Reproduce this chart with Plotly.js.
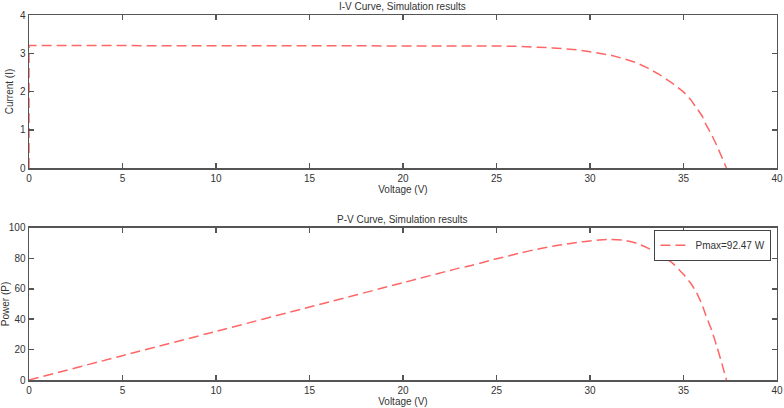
<!DOCTYPE html>
<html>
<head>
<meta charset="utf-8">
<script src="https://cdn.plot.ly/plotly-3.0.1.min.js"></script>
<style>html,body{margin:0;padding:0;background:#fff;}#chart{width:784px;height:408px;}</style>
</head>
<body>
<div id="chart"></div>
<script>
// Voltage samples (V)
const voltage = [0, 0, 5, 10, 15, 20, 23, 23.3, 25, 26.3, 27, 28, 28.6, 29.3, 30, 30.5, 31.1, 31.8, 32.5, 33.1, 33.7, 34.4, 35, 35.4, 35.7, 36, 36.2, 36.5, 36.8, 37.05, 37.3];
// Current (I)
const current = [0, 3.2, 3.2, 3.2, 3.2, 3.2, 3.2, 3.19, 3.19, 3.18, 3.17, 3.14, 3.12, 3.09, 3.04, 3.0, 2.95, 2.86, 2.75, 2.61, 2.45, 2.22, 1.99, 1.78, 1.58, 1.36, 1.14, 0.88, 0.57, 0.3, 0];
// Power (P)
const power = [0, 0, 16, 32, 48, 64, 73.6, 74.3, 79.7, 83.6, 85.6, 88.0, 89.2, 90.5, 91.5, 92.1, 92.5, 92.0, 89.9, 86.8, 82.8, 77.0, 69.5, 63.5, 57.5, 49.5, 42.5, 33, 21.5, 11, 0];
const legendLabel = "Pmax=92.47 W";
const titleIV = "I-V Curve, Simulation results";
const titlePV = "P-V Curve, Simulation results";
const xTicks = [0, 5, 10, 15, 20, 25, 30, 35, 40];
const yTicksIV = [0, 1, 2, 3, 4];
const yTicksPV = [0, 20, 40, 60, 80, 100];

const lineIV = {color: '#ff6666', width: 1.5, dash: '10px,5px', shape: 'linear'};
const linePV = {color: '#ff6666', width: 1.5, dash: '10px,5px', shape: 'spline', smoothing: 0.5};
const font = {family: 'Liberation Sans, Arial, sans-serif', size: 10, color: '#333'};

const axisBase = {
  showgrid: false, zeroline: false, showline: true, mirror: 'ticks',
  linecolor: '#555', linewidth: 1.5, ticks: 'inside', ticklen: 5,
  tickcolor: '#555', tickwidth: 1.5, tickfont: font
};

const traces = [
  {x: voltage, y: current, xaxis: 'x', yaxis: 'y', mode: 'lines', line: lineIV, showlegend: false},
  {x: voltage, y: power, xaxis: 'x2', yaxis: 'y2', mode: 'lines', line: linePV, name: legendLabel, showlegend: true}
];

const layout = {
  width: 784, height: 408,
  margin: {l: 0, r: 0, t: 0, b: 0},
  paper_bgcolor: '#fff', plot_bgcolor: '#fff',
  font: font,
  xaxis: Object.assign({}, axisBase, {domain: [0.037, 0.991], range: [0, 40], tickvals: xTicks, anchor: 'y',
    title: {text: 'Voltage (V)', font: font, standoff: 2}}),
  yaxis: Object.assign({}, axisBase, {domain: [0.5882, 0.9632], range: [0, 4], tickvals: yTicksIV, anchor: 'x',
    title: {text: 'Current (I)', font: font, standoff: 4}}),
  xaxis2: Object.assign({}, axisBase, {domain: [0.037, 0.991], range: [0, 40], tickvals: xTicks, anchor: 'y2',
    title: {text: 'Voltage (V)', font: font, standoff: 2}}),
  yaxis2: Object.assign({}, axisBase, {domain: [0.0686, 0.4412], range: [0, 100], tickvals: yTicksPV, anchor: 'x2',
    title: {text: 'Power (P)', font: font, standoff: 4}}),
  legend: {x: 0.984, xanchor: 'right', y: 0.437, yanchor: 'top', bgcolor: '#fff',
    bordercolor: '#444', borderwidth: 1, font: font, itemwidth: 30,
    tracegroupgap: 0, valign: 'middle'},
  annotations: [
    {text: titleIV, xref: 'paper', yref: 'paper', x: 0.514, y: 0.9632, yanchor: 'bottom', showarrow: false, font: font, yshift: 1},
    {text: titlePV, xref: 'paper', yref: 'paper', x: 0.514, y: 0.4412, yanchor: 'bottom', showarrow: false, font: font, yshift: 1}
  ]
};

Plotly.newPlot('chart', traces, layout, {displayModeBar: false, staticPlot: true});
</script>
</body>
</html>
